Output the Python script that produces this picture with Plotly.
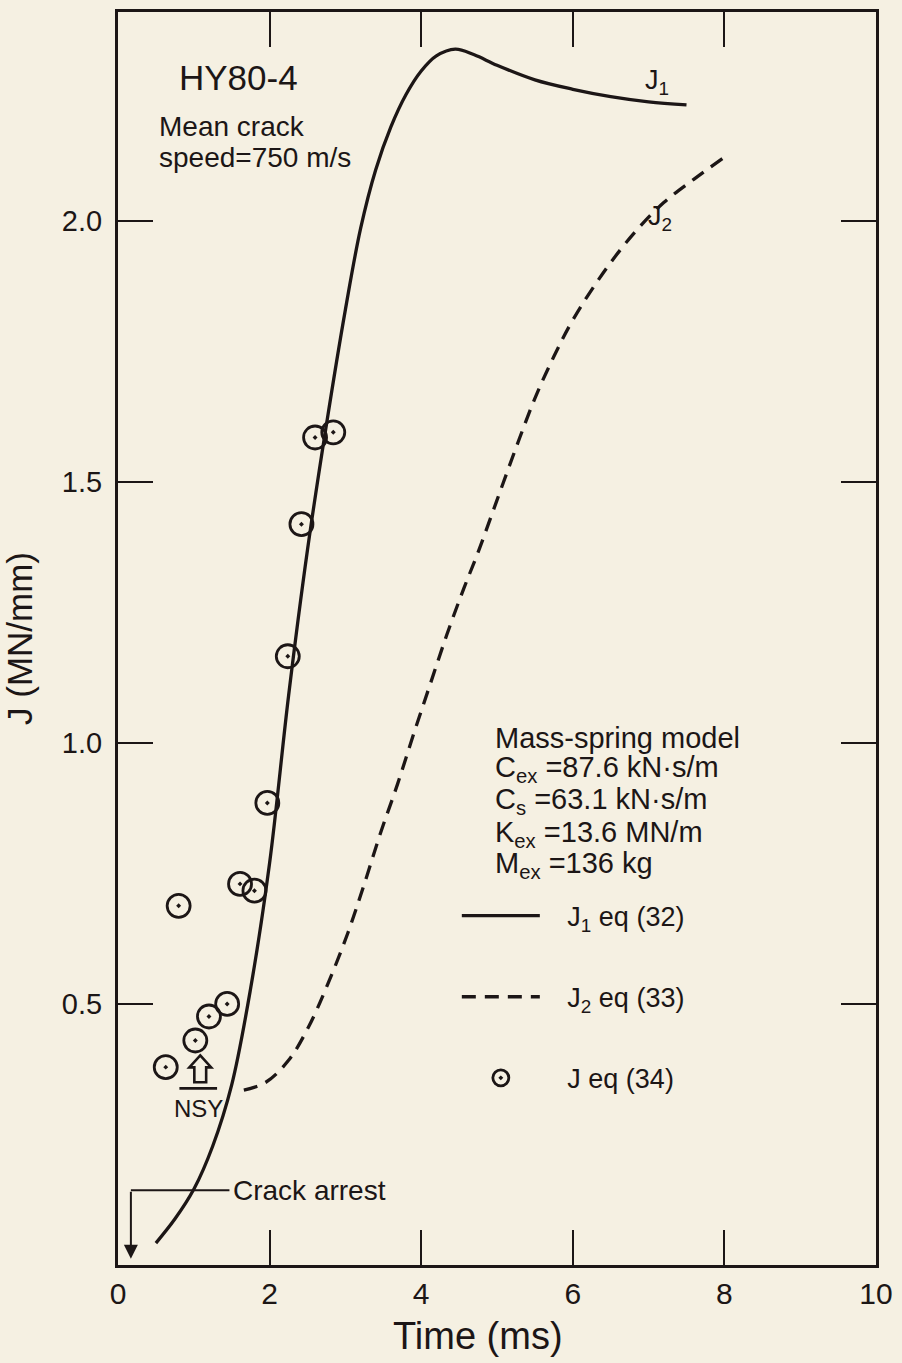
import plotly.graph_objects as go

# ---- data ----
j1_time = [0.5, 0.75, 1.0, 1.25, 1.5, 1.75, 2.0, 2.25, 2.5, 2.75, 3.0, 3.2, 3.4,
           3.6, 3.8, 4.0, 4.2, 4.45, 4.7, 5.0, 5.5, 6.0, 6.5, 7.0, 7.5]
j1_val = [0.042, 0.088, 0.145, 0.228, 0.345, 0.53, 0.77, 1.09, 1.37, 1.61, 1.83, 1.985, 2.098,
          2.18, 2.242, 2.287, 2.316, 2.329, 2.318, 2.298, 2.27, 2.252, 2.238, 2.228, 2.222]

j2_time = [1.66, 1.95, 2.25, 2.51, 2.77, 3.03, 3.25, 3.46, 3.69, 3.90, 4.12, 4.34, 4.56,
           4.75, 5.0, 5.25, 5.5, 5.75, 6.0, 6.4, 6.8, 7.2, 7.6, 7.98]
j2_val = [0.335, 0.35, 0.392, 0.455, 0.539, 0.635, 0.73, 0.826, 0.922, 1.017, 1.113, 1.208, 1.295,
          1.365, 1.465, 1.565, 1.66, 1.74, 1.81, 1.90, 1.975, 2.035, 2.08, 2.12]

j34_time = [0.63, 0.80, 1.02, 1.20, 1.44, 1.61, 1.80, 1.97, 2.24, 2.42, 2.60, 2.84]
j34_val = [0.379, 0.688, 0.430, 0.476, 0.500, 0.730, 0.717, 0.885, 1.166, 1.419, 1.585, 1.595]

x_ticks = [0, 2, 4, 6, 8, 10]
x_ticktext = ["0", "2", "4", "6", "8", "10"]
y_ticks = [0.5, 1.0, 1.5, 2.0]
y_ticktext = ["0.5", "1.0", "1.5", "2.0"]

params = [
    "Mass-spring model",
    "C<sub>ex</sub> =87.6 kN\u00b7s/m",
    "C<sub>s</sub> =63.1 kN\u00b7s/m",
    "K<sub>ex</sub> =13.6 MN/m",
    "M<sub>ex</sub> =136 kg",
]
params_y = [1.010, 0.950, 0.889, 0.826, 0.767]

INK = "#1c1616"
BG = "#f5f0e2"
FONT = "Liberation Sans, Arial, Helvetica, sans-serif"
NB = "\u00a0"

fig = go.Figure()
fig.add_trace(go.Scatter(
    x=j1_time, y=j1_val, mode="lines", name=NB * 3 + "J<sub>1</sub> eq (32)",
    line=dict(color=INK, width=3.3, shape="spline", smoothing=1.0),
    legendgroup="a"))
fig.add_trace(go.Scatter(
    x=j2_time, y=j2_val, mode="lines", name=NB * 3 + "J<sub>2</sub> eq (33)",
    line=dict(color=INK, width=3.3, dash="14px,9px", shape="spline", smoothing=1.0),
    legendgroup="b"))
fig.add_trace(go.Scatter(
    x=j34_time, y=j34_val, mode="markers", name=NB * 3 + "J eq (34)",
    marker=dict(symbol="circle-open-dot", size=23, color=INK, line=dict(width=2.8, color=INK)),
    legendgroup="c"))

ann = []
ann.append(dict(x=0.78, y=2.275, text="HY80-4", showarrow=False, xanchor="left", yanchor="middle",
                font=dict(size=35, color=INK)))
ann.append(dict(x=0.52, y=2.18, text="Mean crack", showarrow=False, xanchor="left", yanchor="middle",
                font=dict(size=28, color=INK)))
ann.append(dict(x=0.52, y=2.122, text="speed=750 m/s", showarrow=False, xanchor="left", yanchor="middle",
                font=dict(size=28, color=INK)))
ann.append(dict(x=6.93, y=2.266, text="J<sub>1</sub>", showarrow=False, xanchor="left", yanchor="middle",
                font=dict(size=27, color=INK)))
ann.append(dict(x=6.97, y=2.005, text="J<sub>2</sub>", showarrow=False, xanchor="left", yanchor="middle",
                font=dict(size=27, color=INK)))
for txt, yy in zip(params, params_y):
    ann.append(dict(x=4.95, y=yy, text=txt, showarrow=False, xanchor="left", yanchor="middle",
                    font=dict(size=29, color=INK)))
ann.append(dict(x=1.49, y=0.143, text="Crack arrest", showarrow=False, xanchor="left", yanchor="middle",
                font=dict(size=28, color=INK)))
ann.append(dict(x=1.06, y=0.30, text="NSY", showarrow=False, xanchor="center", yanchor="middle",
                font=dict(size=24, color=INK)))
# x axis title (placed as in the reference, slightly left of centre)
ann.append(dict(x=0.475, y=-0.0565, xref="paper", yref="paper", text="Time (ms)", showarrow=False,
                xanchor="center", yanchor="middle", font=dict(size=38, color=INK)))
# vertical arrow of the crack-arrest leader
ann.append(dict(x=0.17, y=0.012, ax=0.17, ay=0.143, axref="x", ayref="y", xref="x", yref="y",
                text="", showarrow=True, arrowhead=2, arrowsize=1.4, arrowwidth=2, arrowcolor=INK))

shapes = []
# horizontal leader of the crack-arrest label
shapes.append(dict(type="line", x0=0.17, x1=1.47, y0=0.143, y1=0.143, xref="x", yref="y",
                   line=dict(color=INK, width=2)))
# NSY open block arrow and underline
nsy_path = ("M1.085,0.4015 L1.229,0.3786 L1.163,0.3786 L1.163,0.3499 L1.007,0.3499 "
            "L1.007,0.3786 L0.941,0.3786 Z")
shapes.append(dict(type="path", path=nsy_path, xref="x", yref="y",
                   line=dict(color=INK, width=2.6), fillcolor="rgba(0,0,0,0)"))
shapes.append(dict(type="line", x0=0.81, x1=1.307, y0=0.3384, y1=0.3384, xref="x", yref="y",
                   line=dict(color=INK, width=2.6)))

fig.update_layout(
    width=902, height=1363,
    margin=dict(l=118, r=20, t=9, b=98),
    paper_bgcolor=BG, plot_bgcolor=BG,
    font=dict(family=FONT, color=INK),
    showlegend=True,
    legend=dict(x=0.447, y=0.298, xanchor="left", yanchor="top", bgcolor="rgba(0,0,0,0)",
                font=dict(size=27, color=INK), tracegroupgap=43, itemwidth=78,
                traceorder="grouped"),
    annotations=ann,
    shapes=shapes,
    xaxis=dict(range=[0, 10], tickvals=x_ticks, ticktext=x_ticktext, ticks="inside", ticklen=35,
               tickwidth=2, tickcolor=INK, showline=True, linewidth=3, linecolor=INK,
               mirror="ticks", showgrid=False, zeroline=False,
               tickfont=dict(size=30, color=INK)),
    yaxis=dict(range=[0, 2.40], tickvals=y_ticks, ticktext=y_ticktext, ticks="inside", ticklen=35,
               tickwidth=2, tickcolor=INK, showline=True, linewidth=3, linecolor=INK,
               mirror="ticks", showgrid=False, zeroline=False,
               tickfont=dict(size=29, color=INK), ticklabelstandoff=7,
               title=dict(text="J (MN/mm)", font=dict(size=35, color=INK), standoff=24)),
)

fig.write_html("out.html")
